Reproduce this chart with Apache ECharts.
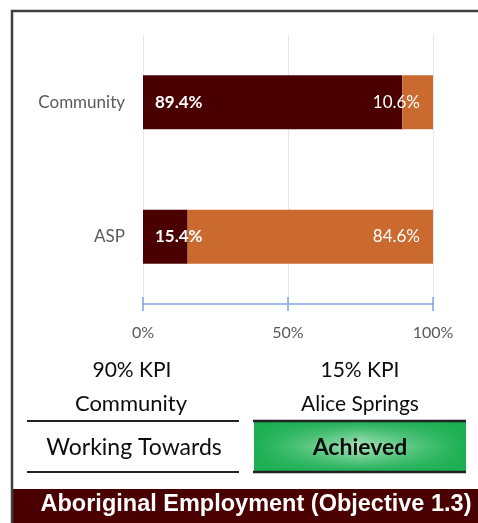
<!DOCTYPE html>
<html>
<head>
<meta charset="utf-8">
<script src="https://cdn.jsdelivr.net/npm/echarts@6/dist/echarts.min.js"></script>
<style>
html,body{margin:0;padding:0;background:#fff;}
#c{width:478px;height:523px;}
</style>
</head>
<body>
<div id="c"></div>
<script>
// Data
const categories = ['ASP', 'Community'];
const primaryValues = [15.4, 89.4];   // dark segment
const remainderValues = [84.6, 10.6]; // orange segment
const tickLabels = ['0%', '50%', '100%'];
const kpiTargets = ['90% KPI', '15% KPI'];
const kpiNames = ['Community', 'Alice Springs'];
const kpiStatus = ['Working Towards', 'Achieved'];
const titleText = 'Aboriginal Employment (Objective 1.3)';

const DARK = '#4A0000';
const ORANGE = '#CA6A2E';
const FONT = 'Lato, "Open Sans", sans-serif';
const G = 'rgba(27,174,82,';

const chart = echarts.init(document.getElementById('c'), null, {renderer: 'canvas'});

const xBase = {
  type: 'value', min: 0, max: 100, interval: 50,
  gridIndex: 0
};

function txt(x, y, s, size, bold) {
  return {type: 'text', x: x, y: y, style: {
    text: s, fill: '#0d0d0d',
    font: (bold ? 'bold ' : '') + size + 'px ' + FONT,
    textAlign: 'center', textVerticalAlign: 'middle'
  }};
}

const option = {
  animation: false,
  backgroundColor: '#ffffff',
  grid: {left: 143, right: 45, top: 35, bottom: 219, containLabel: false},
  xAxis: [
    Object.assign({}, xBase, {
      position: 'bottom',
      axisLine: {show: true, lineStyle: {color: '#7FA4DE', width: 1.5}},
      axisTick: {show: true, inside: false, length: 7, lineStyle: {color: '#7FA4DE', width: 1.5}},
      axisLabel: {
        show: true, margin: 21, color: '#595959', fontSize: 16, fontFamily: FONT,
        formatter: function (v) { return tickLabels[Math.round(v / 50)]; }
      },
      splitLine: {show: true, lineStyle: {color: '#E6E6E6', width: 1}}
    }),
    Object.assign({}, xBase, {
      position: 'bottom',
      axisLine: {show: false},
      axisTick: {show: true, inside: true, length: 7, lineStyle: {color: '#7FA4DE', width: 1.5}},
      axisLabel: {show: false},
      splitLine: {show: false}
    })
  ],
  yAxis: {
    type: 'category',
    data: categories,
    axisLine: {show: false},
    axisTick: {show: false},
    axisLabel: {color: '#595959', fontSize: 17, fontFamily: FONT, margin: 18},
    splitLine: {show: false}
  },
  series: [
    {
      type: 'bar', stack: 'total', xAxisIndex: 0,
      data: primaryValues, barWidth: 54,
      itemStyle: {color: DARK},
      label: {
        show: true, position: 'insideLeft', distance: 12,
        color: '#ffffff', fontWeight: 'bold', fontSize: 17, fontFamily: FONT,
        formatter: function (p) { return p.value.toFixed(1) + '%'; }
      }
    },
    {
      type: 'bar', stack: 'total', xAxisIndex: 0,
      data: remainderValues, barWidth: 54,
      itemStyle: {color: ORANGE},
      label: {
        show: true, position: 'insideRight', distance: 13,
        color: '#ffffff', fontSize: 17, fontFamily: FONT,
        formatter: function (p) { return p.value.toFixed(1) + '%'; }
      }
    }
  ],
  graphic: [
    // outer frame
    {type: 'rect', shape: {x: 12, y: 11, width: 520, height: 540},
     style: {fill: 'none', stroke: '#3F3F3F', lineWidth: 2.5}, z: 10},
    // KPI texts
    txt(132, 370, kpiTargets[0], 21),
    txt(360, 370, kpiTargets[1], 21),
    txt(131, 404, kpiNames[0], 22),
    txt(360, 404, kpiNames[1], 21),
    // left status lines
    {type: 'line', shape: {x1: 27, y1: 421, x2: 239, y2: 421}, style: {stroke: '#222', lineWidth: 2}},
    {type: 'line', shape: {x1: 27, y1: 472, x2: 239, y2: 472}, style: {stroke: '#222', lineWidth: 2}},
    txt(134, 448, kpiStatus[0], 23),
    // green box (horizontal + vertical shading)
    {type: 'rect', shape: {x: 254, y: 421, width: 212, height: 51},
     style: {
       fill: {type: 'linear', x: 0, y: 0, x2: 1, y2: 0, colorStops: [
         {offset: 0, color: '#1BAE52'},
         {offset: 0.18, color: '#46C073'},
         {offset: 0.5, color: '#A6E2BA'},
         {offset: 0.82, color: '#46C073'},
         {offset: 1, color: '#1BAE52'}
       ]}
     }},
    {type: 'rect', shape: {x: 254, y: 421, width: 212, height: 51},
     style: {
       fill: {type: 'linear', x: 0, y: 0, x2: 0, y2: 1, colorStops: [
         {offset: 0, color: G + '1)'},
         {offset: 0.3, color: G + '0.35)'},
         {offset: 0.5, color: G + '0)'},
         {offset: 0.7, color: G + '0.35)'},
         {offset: 1, color: G + '1)'}
       ]}
     }},
    {type: 'line', shape: {x1: 253, y1: 421, x2: 466, y2: 421}, style: {stroke: '#222', lineWidth: 2.5}},
    {type: 'line', shape: {x1: 253, y1: 472, x2: 466, y2: 472}, style: {stroke: '#222', lineWidth: 2.5}},
    txt(360, 448, kpiStatus[1], 23, true),
    // title bar
    {type: 'rect', shape: {x: 13, y: 489, width: 470, height: 40}, style: {fill: DARK}},
    {type: 'text', x: 256, y: 505, style: {text: titleText, fill: '#ffffff', font: 'bold 23.5px "Liberation Sans", Arial, sans-serif', textAlign: 'center', textVerticalAlign: 'middle'}}
  ]
};

chart.setOption(option);
</script>
</body>
</html>
